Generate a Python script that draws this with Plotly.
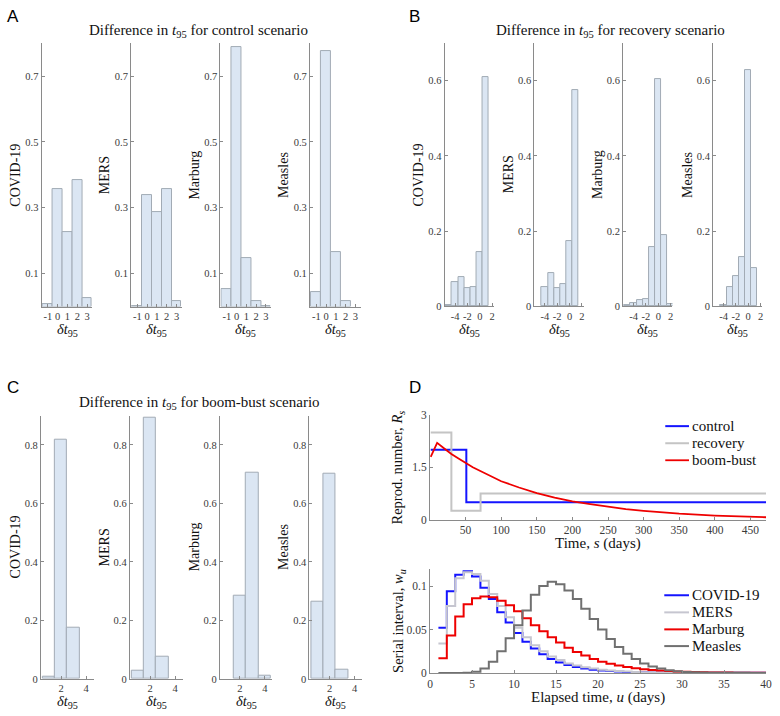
import plotly.graph_objects as go

W, H = 780, 716
SERIF = "Liberation Serif"

def fx(px):
    return px / W

def fy(py):
    return 1 - py / H

diseases = ["COVID-19", "MERS", "Marburg", "Measles"]
scenarios = ["control", "recovery", "boom-bust"]

# ---- Panel A: control scenario (bins of delta t95)
a_bins = [-1, 0, 1, 2, 3]
a_covid = [0.007, 0.358, 0.226, 0.385, 0.027]
a_mers = [0.002, 0.340, 0.287, 0.356, 0.017]
a_marburg = [0.054, 0.787, 0.148, 0.017, 0.001]
a_measles = [0.044, 0.777, 0.164, 0.017, 0.0]

# ---- Panel B: recovery scenario
b_bins = [-5, -4, -3, -2, -1, 0, 1, 2]
b_covid = [0.002, 0.065, 0.077, 0.047, 0.051, 0.145, 0.609, 0.0]
b_mers = [0.0, 0.052, 0.088, 0.049, 0.059, 0.174, 0.575, 0.0]
b_marburg = [0.003, 0.007, 0.016, 0.020, 0.158, 0.605, 0.188, 0.005]
b_measles = [0.0, 0.003, 0.052, 0.080, 0.132, 0.628, 0.102, 0.0]

# ---- Panel C: boom-bust scenario
c_bins = [1, 2, 3, 4]
c_covid = [0.007, 0.817, 0.175, 0.0]
c_mers = [0.028, 0.893, 0.076, 0.0]
c_marburg = [0.0, 0.284, 0.705, 0.010]
c_measles = [0.265, 0.702, 0.032, 0.0]

# ---- Panel D top: reproduction numbers
ctrl_s = [1, 51, 472]
ctrl_R = [2.0, 0.5, 0.5]
rec_s = [1, 30, 71, 472]
rec_R = [2.5, 0.25, 0.75, 0.75]
boom_s = [1, 10, 20, 30, 40, 50, 60, 75, 100, 125, 150, 175, 200, 225, 250,
          275, 300, 350, 400, 450, 472]
boom_R = [1.8, 2.2, 2.04, 1.88, 1.75, 1.62, 1.5, 1.35, 1.1, 0.92, 0.76, 0.63,
          0.52, 0.44, 0.36, 0.30, 0.25, 0.17, 0.115, 0.078, 0.066]

# ---- Panel D bottom: serial intervals, u = 1..40
u_days = list(range(1, 41))
covid_w = [0.052, 0.094, 0.113, 0.117, 0.111, 0.098, 0.085, 0.070, 0.058, 0.046,
           0.036, 0.028, 0.0215, 0.016, 0.012, 0.009, 0.0068, 0.0051, 0.0038, 0.0028,
           0.0021, 0.0016, 0.0012, 0.0009, 0.0007, 0.0005, 0.0004, 0.0003, 0.0002, 0.00015,
           0.0001, 0.0001, 0.0001, 0.0001, 0.0001, 0.0001, 0.0001, 0.0001, 0.0001, 0.0001]
mers_w = [0.034, 0.077, 0.109, 0.116, 0.114, 0.106, 0.091, 0.077, 0.064, 0.052,
          0.041, 0.032, 0.025, 0.019, 0.015, 0.011, 0.0085, 0.0065, 0.005, 0.0037,
          0.0028, 0.0021, 0.0016, 0.0012, 0.0009, 0.0007, 0.0005, 0.0004, 0.0003, 0.0002,
          0.00015, 0.0001, 0.0001, 0.0001, 0.0001, 0.0001, 0.0001, 0.0001, 0.0001, 0.0001]
marburg_w = [0.017, 0.043, 0.065, 0.079, 0.086, 0.088, 0.087, 0.083, 0.078, 0.071,
             0.063, 0.055, 0.048, 0.041, 0.035, 0.029, 0.024, 0.020, 0.016, 0.013,
             0.0105, 0.0085, 0.0068, 0.0054, 0.0043, 0.0034, 0.0027, 0.0021, 0.0017, 0.0013,
             0.001, 0.0008, 0.0006, 0.0005, 0.0004, 0.0003, 0.0002, 0.0002, 0.0001, 0.0001]
measles_w = [0.0, 0.0, 0.0, 0.0003, 0.0015, 0.005, 0.013, 0.025, 0.040, 0.055,
             0.072, 0.090, 0.100, 0.105, 0.102, 0.095, 0.085, 0.074, 0.062, 0.050,
             0.039, 0.030, 0.022, 0.016, 0.011, 0.0075, 0.005, 0.003, 0.002, 0.0012,
             0.0008, 0.0005, 0.0003, 0.0002, 0.0001, 0.0001, 0.0001, 0.0, 0.0, 0.0]

AXC = "#8a8a8a"
TICKC = "#3a3a3a"
TXT = "#111111"
BAR_FILL = "#dbe6f3"
BAR_EDGE = "#a2abb5"
scen_colors = ["#1414ff", "#c4c4c4", "#ee0000"]
dis_colors = ["#1414ff", "#c6c6d0", "#ee0000", "#707070"]

fig = go.Figure()
layout = {}
annotations = []
shapes = []
counter = [0]


def axis_style(**kw):
    d = dict(showline=True, linecolor=AXC, linewidth=1, ticks="inside", ticklen=3,
             tickcolor=AXC, showgrid=False, zeroline=False,
             tickfont=dict(family=SERIF, size=10.5, color=TICKC))
    d.update(kw)
    return d


def add_hist(bins, vals, x0, x1, y0, y1, xr, yr, xt, yt, ytt, label):
    counter[0] += 1
    n = counter[0]
    sfx = "" if n == 1 else str(n)
    xs = [b for b, v in zip(bins, vals) if v > 0]
    ys = [v for v in vals if v > 0]
    fig.add_trace(go.Bar(x=xs, y=ys, width=1, xaxis="x" + sfx, yaxis="y" + sfx,
                         marker=dict(color=BAR_FILL, line=dict(color=BAR_EDGE, width=1)),
                         showlegend=False))
    layout["xaxis" + sfx] = axis_style(domain=[fx(x0), fx(x1)], range=xr, anchor="y" + sfx,
                                       tickvals=xt, ticktext=[str(t) for t in xt])
    layout["yaxis" + sfx] = axis_style(domain=[fy(y1), fy(y0)], range=yr, anchor="x" + sfx,
                                       tickvals=yt, ticktext=ytt)
    annotations.append(dict(text=label, x=fx(x0 - 26), y=fy((y0 + y1) / 2), xref="paper",
                            yref="paper", showarrow=False, textangle=-90,
                            font=dict(family=SERIF, size=14, color=TXT),
                            xanchor="center", yanchor="middle"))
    annotations.append(dict(text="<i>δt</i><sub>95</sub>", x=fx((x0 + x1) / 2), y=fy(y1 + 24),
                            xref="paper", yref="paper", showarrow=False,
                            font=dict(family=SERIF, size=14.5, color=TXT),
                            xanchor="center", yanchor="middle"))


# Panel A
a_left = [39, 129.5, 220, 310.5]
for left, vals, lab in zip(a_left, [a_covid, a_mers, a_marburg, a_measles], diseases):
    add_hist(a_bins, vals, left, left + 51.5, 37.7, 305.7, [-1.65, 3.55], [0, 0.8],
             [-1, 0, 1, 2, 3], [0.1, 0.3, 0.5, 0.7], ["0.1", "0.3", "0.5", "0.7"], lab)

# Panel B
b_left = [446.7, 537.5, 627.3, 718.3]
for left, vals, lab in zip(b_left, [b_covid, b_mers, b_marburg, b_measles], diseases):
    add_hist(b_bins, vals, left, left + 50, 37.7, 305.3, [-5.7, 2.3], [0, 0.7],
             [-4, -2, 0, 2], [0, 0.2, 0.4, 0.6], ["0", "0.2", "0.4", "0.6"], lab)

# Panel C
c_left = [38.3, 128.3, 219.3, 310]
for left, vals, lab in zip(c_left, [c_covid, c_mers, c_marburg, c_measles], diseases):
    add_hist(c_bins, vals, left, left + 53.3, 416.7, 684.3, [0.38, 4.6], [0, 0.9],
             [2, 4], [0, 0.2, 0.4, 0.6, 0.8], ["0", "0.2", "0.4", "0.6", "0.8"], lab)

# Panel D top
for name, xs, ys, col, shp, lw in [(scenarios[0], ctrl_s, ctrl_R, scen_colors[0], "hv", 2),
                                   (scenarios[1], rec_s, rec_R, scen_colors[1], "hv", 2),
                                   (scenarios[2], boom_s, boom_R, scen_colors[2], "linear", 1.8)]:
    fig.add_trace(go.Scatter(x=xs, y=ys, mode="lines", line=dict(color=col, width=lw, shape=shp),
                             name=name, xaxis="x17", yaxis="y17", showlegend=False))

dfont = dict(family=SERIF, size=11.5, color=TICKC)
layout["xaxis17"] = axis_style(domain=[fx(432), fx(772)], range=[0, 472], anchor="y17",
                               tickvals=[50, 100, 150, 200, 250, 300, 350, 400, 450], tickfont=dfont)
layout["yaxis17"] = axis_style(domain=[fy(522.3), fy(416)], range=[0, 3], anchor="x17",
                               tickvals=[0, 1.5, 3], ticktext=["0", "1.5", "3"], tickfont=dfont)

# Panel D bottom
for name, vals, col in zip(diseases, [covid_w, mers_w, marburg_w, measles_w], dis_colors):
    fig.add_trace(go.Scatter(x=u_days, y=vals, mode="lines", line=dict(color=col, width=2, shape="hv"),
                             name=name, xaxis="x18", yaxis="y18", showlegend=False))

layout["xaxis18"] = axis_style(domain=[fx(432), fx(772)], range=[0, 40], anchor="y18",
                               tickvals=[0, 5, 10, 15, 20, 25, 30, 35, 40], tickfont=dfont)
layout["yaxis18"] = axis_style(domain=[fy(678.3), fy(572.3)], range=[0, 0.12], anchor="x18",
                               tickvals=[0, 0.05, 0.1], ticktext=["0", "0.05", "0.1"], tickfont=dfont)

# Legends (drawn as keys next to the D panels)
def add_key(names, colors, widths, x0, x1, rows):
    for nm, col, lw, ry in zip(names, colors, widths, rows):
        shapes.append(dict(type="line", xref="paper", yref="paper", x0=fx(x0), x1=fx(x1),
                           y0=fy(ry), y1=fy(ry), line=dict(color=col, width=lw)))
        annotations.append(dict(text=nm, x=fx(x1 + 1.5), y=fy(ry), xref="paper", yref="paper",
                                showarrow=False, xanchor="left", yanchor="middle",
                                font=dict(family=SERIF, size=15, color=TXT)))

add_key(scenarios, scen_colors, [2, 2, 1.8], 670, 694, [427.3, 444.7, 462])
add_key(diseases, dis_colors, [2, 2, 2, 2], 669, 694, [599.3, 616.7, 634, 651])

# Titles
for txt, cx, cy in [("Difference in <i>t</i><sub>95</sub> for control scenario", 198, 25),
                    ("Difference in <i>t</i><sub>95</sub> for recovery scenario", 615, 25),
                    ("Difference in <i>t</i><sub>95</sub> for boom-bust scenario", 199, 404)]:
    annotations.append(dict(text=txt, x=fx(cx), y=fy(cy), xref="paper", yref="paper",
                            showarrow=False, font=dict(family=SERIF, size=15, color=TXT),
                            xanchor="center", yanchor="middle"))

# Panel letters
for txt, lx, ly in [("A", 2, 11), ("B", 409, 11), ("C", 2, 388), ("D", 409, 388)]:
    annotations.append(dict(text=txt, x=fx(lx), y=fy(ly), xref="paper", yref="paper",
                            showarrow=False, font=dict(family="Liberation Sans", size=17, color="#000"),
                            xanchor="left", yanchor="middle"))

# D axis titles
annotations += [
    dict(text="Reprod. number, <i>R</i><sub><i>s</i></sub>", x=fx(400), y=fy(469), xref="paper",
         yref="paper", showarrow=False, textangle=-90, font=dict(family=SERIF, size=14.5, color=TXT),
         xanchor="center", yanchor="middle"),
    dict(text="Time, <i>s</i> (days)", x=fx(602), y=fy(547), xref="paper", yref="paper",
         showarrow=False, font=dict(family=SERIF, size=15, color=TXT), xanchor="center",
         yanchor="middle"),
    dict(text="Serial interval, <i>w</i><sub><i>u</i></sub>", x=fx(400), y=fy(625), xref="paper",
         yref="paper", showarrow=False, textangle=-90, font=dict(family=SERIF, size=14.5, color=TXT),
         xanchor="center", yanchor="middle"),
    dict(text="Elapsed time, <i>u</i> (days)", x=fx(602), y=fy(703), xref="paper", yref="paper",
         showarrow=False, font=dict(family=SERIF, size=15, color=TXT), xanchor="center",
         yanchor="middle"),
]

fig.update_layout(
    width=W, height=H, margin=dict(l=0, r=0, t=0, b=0),
    paper_bgcolor="white", plot_bgcolor="white",
    bargap=0, showlegend=False,
    annotations=annotations, shapes=shapes,
    **layout,
)

fig.write_html("out.html", config={"displayModeBar": False},
               post_script="document.body.style.margin='0';document.body.style.overflow='hidden';")
